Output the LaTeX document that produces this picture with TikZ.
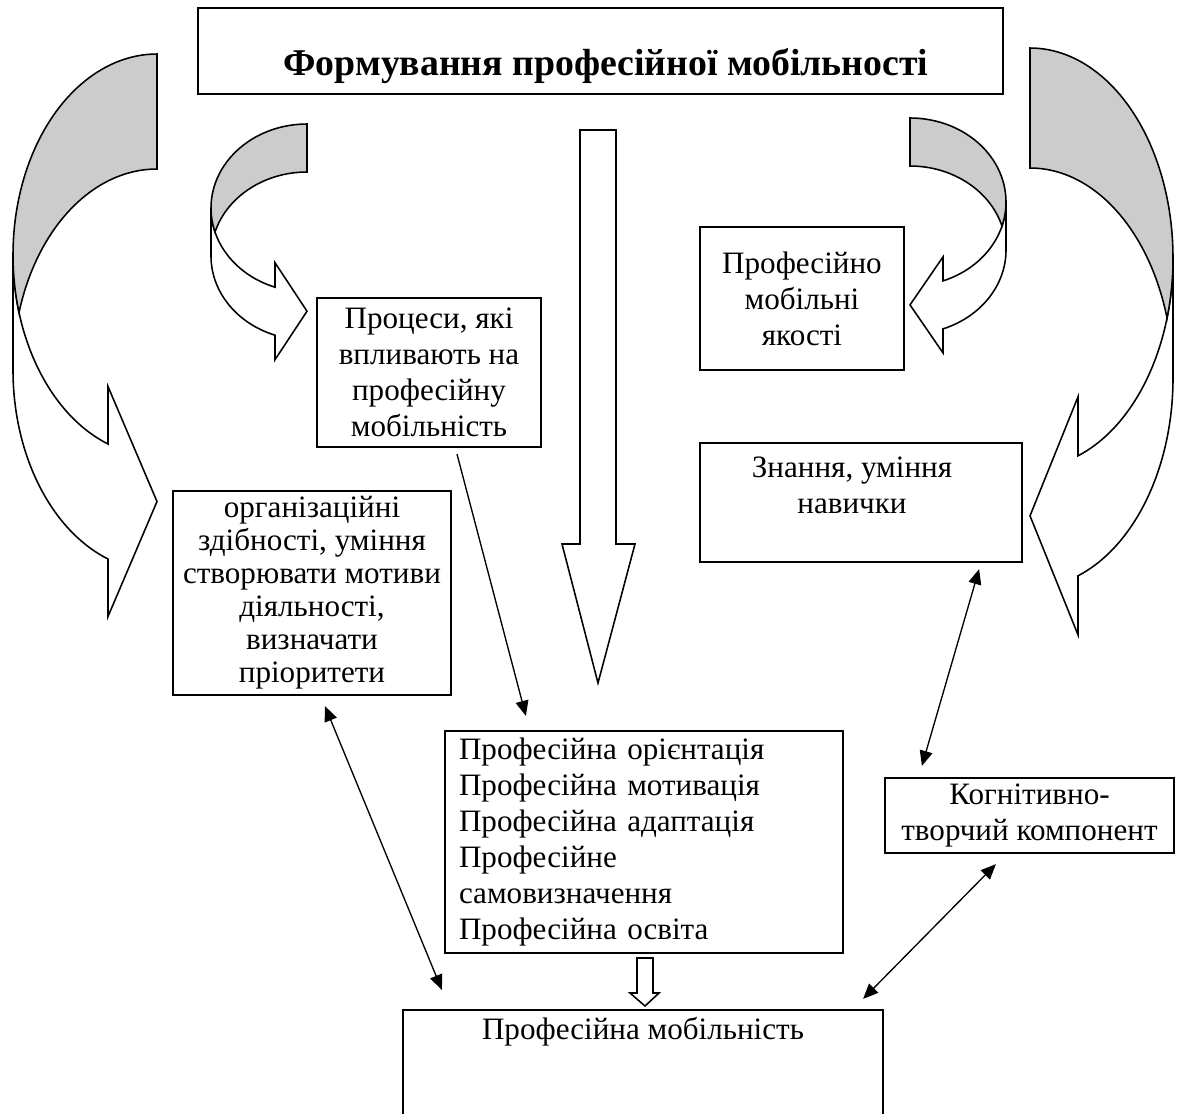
\documentclass[tikz,border=0pt]{standalone}
\usepackage{fontspec}
\setmainfont{Liberation Serif}
\usepackage{tikz}
\usetikzlibrary{arrows.meta}
\definecolor{BackGray}{RGB}{204,204,204}

% curved band arrow, tail top at (#1,#2); #3 = 1 body left, -1 body right
% #4 band thickness, #5 x radius, #6 y radius, #7 head offset, #8 head half size
\newcommand{\bandarrow}[8]{%
  \begin{scope}[shift={(#1,#2)},xscale=#3]
    \pgfmathsetmacro{\bAng}{180-acos(#7/#5)}
    \pgfmathsetmacro{\bYin}{#6+#6*sin(\bAng)}
    \pgfmathsetmacro{\bYout}{\bYin+#4}
    \pgfmathsetmacro{\bYmid}{\bYin+#4/2}
    \pgfmathsetmacro{\bCross}{asin(#4/(2*#6))}
    \draw[shapeline,fill=white] (-#5,#6)
      arc[start angle=180,end angle=\bAng,x radius=#5,y radius=#6]
      -- (-#7,\bYmid-#8) -- (0,\bYmid) -- (-#7,\bYmid+#8) -- (-#7,\bYout)
      arc[start angle=\bAng,end angle=180,x radius=#5,y radius=#6] -- cycle;
    \draw[shapeline,fill=BackGray] (0,0)
      arc[start angle=270,end angle=180-\bCross,x radius=#5,y radius=#6]
      arc[start angle=180+\bCross,end angle=270,x radius=#5,y radius=#6] -- cycle;
  \end{scope}}

\begin{document}
\begin{tikzpicture}[
x=0.45pt,y=-0.45pt,
>={Triangle[length=6.8pt,width=5.8pt]},
box/.style={
draw,
line width=1pt,
align=center,
inner sep=2pt,
font=\fontsize{14}{16.2}\selectfont
},
boxtext/.style={
align=center,
inner sep=0pt,
font=\fontsize{14}{16.2}\selectfont
},
shapeline/.style={line width=0.7pt,line join=miter},
linkline/.style={line width=0.6pt}
]
\useasboundingbox (0,0) rectangle (1181,1113);

% curved arrows
\bandarrow{157}{54}{1}{115}{144}{201}{49}{115}
\bandarrow{1030}{48}{-1}{120}{143}{210}{48}{119}
\bandarrow{307}{124}{1}{48}{96}{84}{32}{48.5}
\bandarrow{910}{118}{-1}{48}{96}{84}{33}{48}

% block arrows
\draw[shapeline] (580,130) -- (616,130) -- (616,544) -- (635,544) -- (598,683)
  -- (562,544) -- (580,544) -- cycle;
\draw[shapeline] (637,958) -- (653,958) -- (653,993) -- (659,993) -- (645,1006)
  -- (630,993) -- (637,993) -- cycle;

% boxes
\node[box,minimum width=362.25pt,minimum height=38.7pt] (title) at (600.5,51) {};
\node[boxtext,font=\fontsize{17}{20}\selectfont\bfseries] (titletext) at (606,66)
  {Формування професійної мобільності};

\node[box,minimum width=100.8pt,minimum height=67.05pt] (proc) at (429,372.5)
  {Процеси, які\\впливають на\\професійну\\мобільність};

\node[box,minimum width=91.8pt,minimum height=64.35pt] (yakosti) at (802,298.5)
  {Професійно\\мобільні\\якості};

\node[box,minimum width=144.9pt,minimum height=53.55pt] (znannia) at (861,502.5) {};
\node[boxtext] (znanniatext) at (852,485) {Знання, уміння\\навички};

\node[box,minimum width=125.1pt,minimum height=91.8pt,
  font=\fontsize{14}{14.85}\selectfont] (orgzd) at (312,593)
  {організаційні\\здібності, уміння\\створювати мотиви\\діяльності,\\визначати\\пріоритети};

\node[box,minimum width=179.1pt,minimum height=99.9pt,align=left,
  text width=166.5pt,inner xsep=6.3pt] (stages) at (644,842)
  {Професійна орієнтація\\Професійна мотивація\\Професійна адаптація\\Професійне\\самовизначення\\Професійна освіта};

\node[box,minimum width=130.05pt,minimum height=33.75pt] (kogn) at (1029.5,815.5)
  {Когнітивно-\\творчий компонент};

\node[box,minimum width=216pt,minimum height=54pt] (mobil) at (643,1070) {};
\node[boxtext] (mobiltext) at (643,1032) {Професійна мобільність};

% connectors
\draw[linkline,->] ([shift={(28,6)}]proc.south) -- ([shift={(82,-14)}]stages.north west);
\draw[linkline,<->] ([shift={(13,10)}]orgzd.south) -- ([shift={(40,-19)}]mobil.north west);
\draw[linkline,<->] ([shift={(-44,6)}]znannia.south east) -- ([shift={(38,-11)}]kogn.north west);
\draw[linkline,<->] ([shift={(112,10)}]kogn.south west) -- ([shift={(-21,-10)}]mobil.north east);
\end{tikzpicture}
\end{document}
